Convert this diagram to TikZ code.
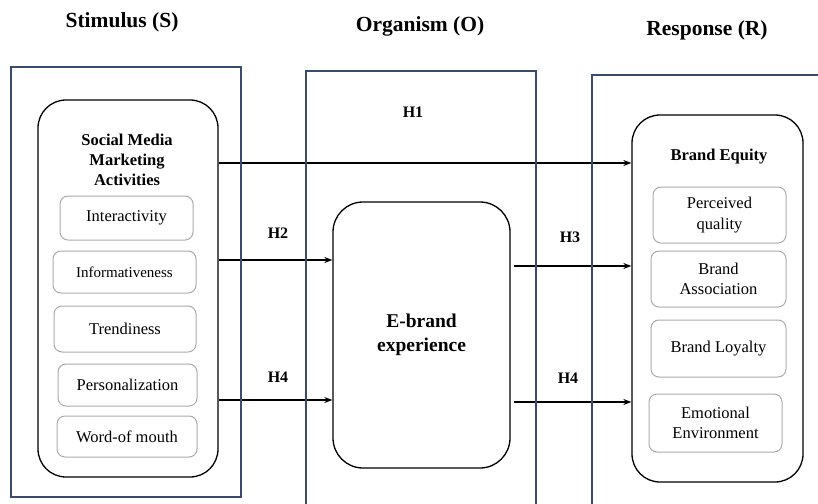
\documentclass[tikz,border=0pt]{standalone}
\usepackage{fontspec}
\setmainfont{Liberation Serif}
\usetikzlibrary{arrows.meta}
\definecolor{framenavy}{RGB}{58,76,110}
\definecolor{itemgray}{RGB}{170,170,170}
\begin{document}
\begin{tikzpicture}[x=1pt,y=-1pt]
 \tikzstyle{every node}=[align=center,inner sep=0pt];
 \tikzstyle{frame}=[draw=framenavy,line width=1.2pt];
 \tikzstyle{bigbox}=[draw,line width=1.3pt,rounded corners=28pt];
 \tikzstyle{item}=[draw=itemgray,line width=1pt,rounded corners=8pt,font=\fontsize{16.5}{20.5}\selectfont];
 \tikzstyle{head}=[font=\bfseries\fontsize{21.5}{25}\selectfont];
 \tikzstyle{boxtitle}=[font=\bfseries\fontsize{16.5}{20}\selectfont];
 \tikzstyle{hyp}=[font=\bfseries\fontsize{16}{18}\selectfont];
 \tikzstyle{link}=[-{Stealth[length=8pt,width=6pt]},line width=1.5pt];
    \useasboundingbox (0,0) rectangle (818,503);
    \node at (122,22) (stim) [head] {Stimulus (S)};
    \node at (420,26) (org) [head] {Organism (O)};
    \node at (707,30) (resp) [head] {Response (R)};
    % stimulus
    \node at (128,288.5) (smma) [bigbox,minimum width=180pt,minimum height=377pt] {};
    \node at (127,160) (smmat) [boxtitle] {Social Media\\Marketing\\Activities};
    \node at (126.5,218) (inter) [item,minimum width=133pt,minimum height=44pt] {Interactivity};
    \node at (124.5,272) (info) [item,minimum width=143pt,minimum height=42pt,font=\fontsize{15}{18}\selectfont] {Informativeness};
    \node at (125,329) (trend) [item,minimum width=142pt,minimum height=46pt] {Trendiness};
    \node at (127.5,385) (pers) [item,minimum width=139pt,minimum height=42pt] {Personalization};
    \node at (127,436.5) (wom) [item,minimum width=140pt,minimum height=41pt] {Word-of mouth};
    % organism
    \node at (421.5,335) (ebx) [bigbox,rounded corners=30pt,minimum width=177pt,minimum height=266pt,font=\bfseries\fontsize{19.5}{24}\selectfont] {E-brand\\experience};
    % response
    \node at (717.5,298.5) (beq) [bigbox,minimum width=171pt,minimum height=367pt] {};
    \node at (719,157) (beqt) [boxtitle] {Brand Equity};
    \node at (719.5,215) (pq) [item,minimum width=133pt,minimum height=56pt] {Perceived\\quality};
    \node at (718.5,279) (ba) [item,minimum width=135pt,minimum height=56pt] {Brand\\Association};
    \node at (718.5,348.5) (bl) [item,minimum width=135pt,minimum height=57pt] {Brand Loyalty};
    \node at (715.5,423) (ee) [item,minimum width=133pt,minimum height=58pt] {Emotional\\Environment};
    % hypotheses
    \node at (413,112) (h1) [hyp] {H1};
    \node at (278,233) (h2) [hyp] {H2};
    \node at (278,377) (h4a) [hyp] {H4};
    \node at (570,237) (h3) [hyp] {H3};
    \node at (568,378) (h4b) [hyp] {H4};
    \draw[link] (smma.east |- 0,163) -- (beq.west |- 0,163);
    \draw[link] (smma.east |- 0,260) -- (ebx.west |- 0,260);
    \draw[link] (smma.east |- 0,400) -- (ebx.west |- 0,400);
    \draw[link,shorten <=3pt] (ebx.east |- 0,266) -- (beq.west |- 0,266);
    \draw[link,shorten <=3pt] (ebx.east |- 0,402) -- (beq.west |- 0,402);
    % frames
    \draw[frame] (11,67) rectangle (241,497);
    \draw[frame] (306,71) rectangle (536,506);
    \draw[frame] (592,75) rectangle (822,506);
\end{tikzpicture}
\end{document}
